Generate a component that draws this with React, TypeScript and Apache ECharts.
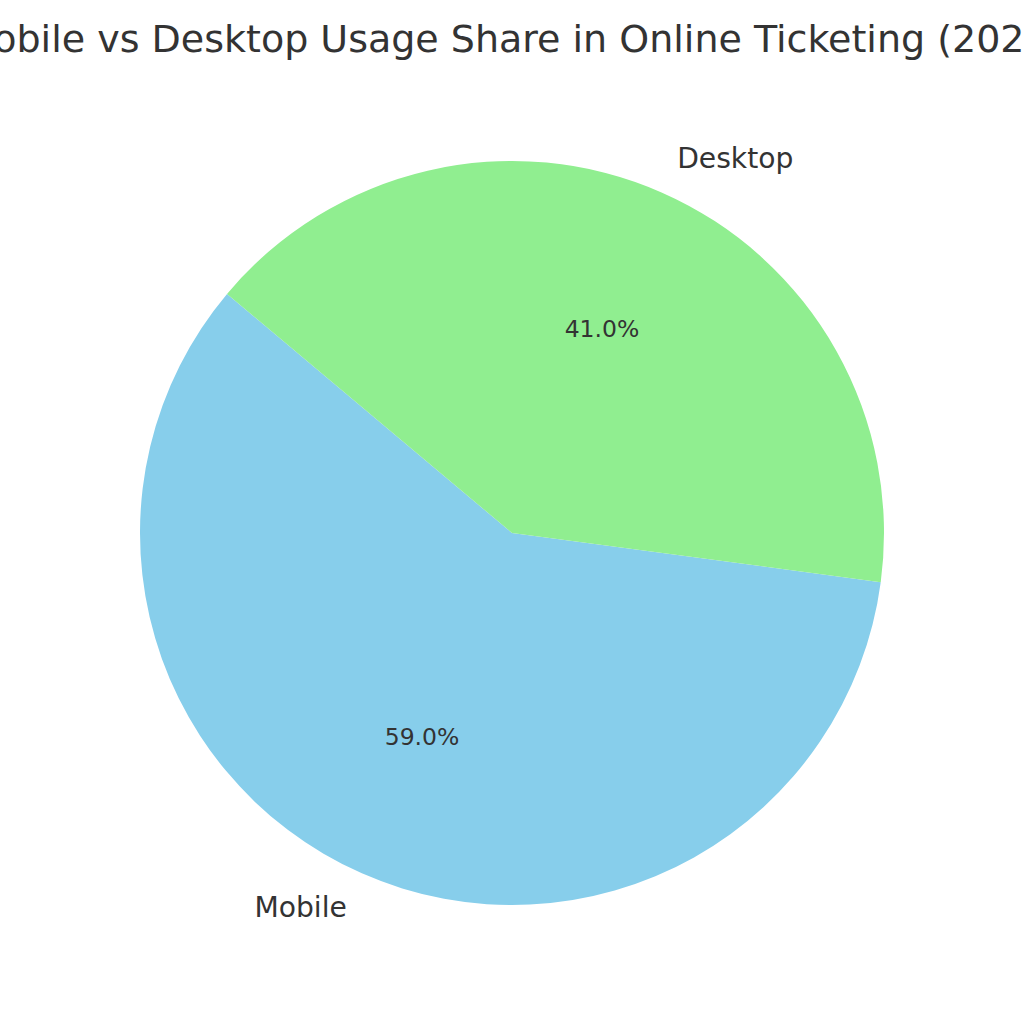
import React, { useEffect, useRef } from "react";
import * as echarts from "echarts";

const titleText = "Mobile vs Desktop Usage Share in Online Ticketing (2023)";
const categories = ["Mobile", "Desktop"];
const shares = [59, 41];
const colors = ["#87CEEB", "#90EE90"];

export default function App() {
  const ref = useRef<HTMLDivElement>(null);
  useEffect(() => {
    if (!ref.current) return;
    const chart = echarts.init(ref.current, null, { renderer: "svg" });
    const R = 372;
    const data = categories.map((name, i) => ({
      name,
      value: shares[i],
      itemStyle: { color: colors[i] },
    }));
    chart.setOption({
      animation: false,
      backgroundColor: "#ffffff",
      title: {
        text: titleText,
        left: "center",
        top: 15,
        textStyle: {
          fontFamily: "DejaVu Sans",
          fontSize: 38,
          fontWeight: "normal",
          color: "#333333",
        },
      },
      series: [
        {
          type: "pie",
          center: [512, 533],
          radius: [0, R],
          startAngle: 140,
          clockwise: false,
          avoidLabelOverlap: false,
          silent: true,
          data,
          label: {
            show: true,
            position: "outside",
            formatter: "{b}",
            fontFamily: "DejaVu Sans",
            fontSize: 28.2,
            color: "#333333",
            distanceToLabelLine: 0,
          },
          labelLine: { show: false, length: R * 0.1, length2: 0 },
          itemStyle: { borderWidth: 0 },
        },
        {
          type: "pie",
          center: [512, 533],
          radius: [68, R],
          startAngle: 140,
          clockwise: false,
          avoidLabelOverlap: false,
          silent: true,
          data: categories.map((name, i) => ({
            name,
            value: shares[i],
            itemStyle: { color: "rgba(0,0,0,0)" },
          })),
          label: {
            show: true,
            position: "inside",
            formatter: (p: any) => p.percent.toFixed(1) + "%",
            fontFamily: "DejaVu Sans",
            fontSize: 23.5,
            color: "#333333",
          },
          labelLine: { show: false },
          itemStyle: { borderWidth: 0 },
        },
      ],
    });
    return () => chart.dispose();
  }, []);
  return (
    <div
      ref={ref}
      style={{ position: "fixed", left: 0, top: 0, width: 1024, height: 1024 }}
    />
  );
}
